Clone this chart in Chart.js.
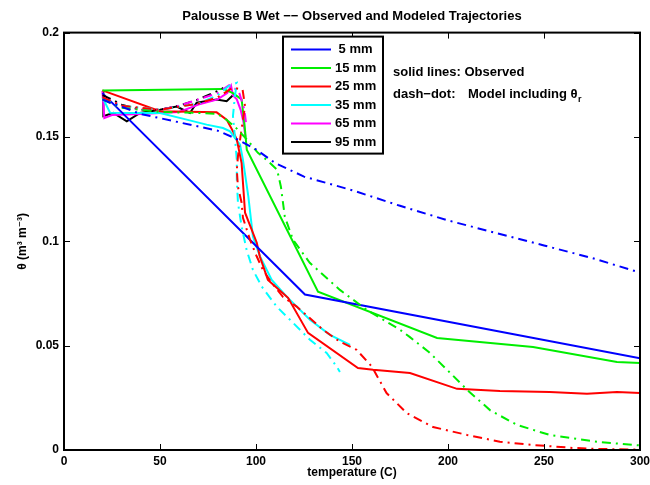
<!DOCTYPE html>
<html>
<head>
<meta charset="utf-8">
<script src="https://cdn.jsdelivr.net/npm/chart.js@4"></script>
<style>
  html, body { margin: 0; padding: 0; background: #fff; }
  canvas { display: block; }
</style>
</head>
<body>
<canvas id="myChart" width="650" height="485"></canvas>
<script>
// tick labels
var xTicks = [0, 50, 100, 150, 200, 250, 300];
var yTicks = [0, 0.05, 0.1, 0.15, 0.2];
var yTickLabels = ["0", "0.05", "0.1", "0.15", "0.2"];

// depths (legend) and colours
var depths = [" 5 mm", "15 mm", "25 mm", "35 mm", "65 mm", "95 mm"];
var colors = ["#0000ff", "#00ee00", "#ff0000", "#00ffff", "#ff00ff", "#000000"];

// observed trajectories (temperature C, theta)
var obs5T = [20, 125.5, 300];
var obs5Theta = [0.171, 0.0745, 0.044];
var obs15T = [20, 83, 88, 92.5, 94, 95.2, 132.3, 194.3, 244.3, 288, 300];
var obs15Theta = [0.1723, 0.173, 0.171, 0.168, 0.156, 0.1439, 0.0758, 0.0537, 0.0494, 0.0422, 0.0417];
var obs25T = [20, 50, 79.5, 84.7, 88, 90, 92.5, 94.3, 100.4, 102, 106.2, 110.8, 116.7, 127.1, 153.1, 161, 180.2, 204.7, 227, 253, 272.4, 288, 300];
var obs25Theta = [0.1723, 0.1623, 0.1618, 0.1583, 0.1527, 0.1487, 0.1375, 0.1137, 0.0993, 0.0927, 0.0815, 0.0777, 0.0729, 0.0561, 0.0393, 0.0384, 0.0369, 0.0293, 0.0283, 0.0278, 0.0269, 0.0278, 0.0273];
var obs35T = [20, 24, 35, 50, 63.9, 74.3, 82.8, 86.5, 89, 91.7, 93.2, 96, 98.4, 102.1, 108.2, 116, 128.1, 138.5, 149];
var obs35Theta = [0.169, 0.1616, 0.1615, 0.1615, 0.1583, 0.1559, 0.1543, 0.1527, 0.1495, 0.1463, 0.139, 0.1215, 0.1023, 0.0927, 0.0815, 0.0735, 0.0624, 0.0552, 0.0504];
var obs65T = [20, 21, 25, 40, 60, 70, 80, 85, 87, 88, 90, 92, 93.5, 94.5];
var obs65Theta = [0.172, 0.159, 0.1605, 0.161, 0.162, 0.1655, 0.168, 0.171, 0.1745, 0.170, 0.168, 0.163, 0.157, 0.150];
var obs95T = [20.5, 20.5, 25.7, 32.7, 39.6, 50, 58.7, 65.6, 69.1, 79.5, 84.7, 88];
var obs95Theta = [0.1719, 0.160, 0.1615, 0.1575, 0.1615, 0.163, 0.1646, 0.1615, 0.1664, 0.1679, 0.1671, 0.170];

// modelled trajectories (dash-dot)
var mod5T = [20, 25, 30, 40, 50, 60, 70, 80, 90, 100, 110, 125, 150, 175, 200, 225, 250, 275, 300];
var mod5Theta = [0.168, 0.166, 0.1645, 0.161, 0.159, 0.157, 0.155, 0.153, 0.149, 0.144, 0.1375, 0.131, 0.1245, 0.117, 0.110, 0.104, 0.098, 0.092, 0.085];
var mod15T = [20, 30, 50, 70, 80, 85, 90, 96, 101, 105.6, 111, 113, 115, 119.3, 128, 143.7, 157.8, 175, 180, 190, 200, 210, 222, 236, 253, 279, 300];
var mod15Theta = [0.168, 0.164, 0.162, 0.1615, 0.161, 0.158, 0.154, 0.148, 0.1424, 0.139, 0.1343, 0.126, 0.1118, 0.1007, 0.0897, 0.0767, 0.0671, 0.0576, 0.0542, 0.047, 0.038, 0.0288, 0.019, 0.012, 0.0072, 0.0038, 0.0022];
var mod25T = [20, 30, 50, 70, 80, 88, 93, 94.3, 93, 91.7, 90.6, 90, 90.6, 92.5, 93.2, 96.9, 100.4, 103.6, 108.2, 114, 121.2, 134.9, 143.7, 152.4, 160.3, 168, 178.5, 192.2, 210, 227, 244.3, 265, 279, 300];
var mod25Theta = [0.169, 0.165, 0.163, 0.166, 0.169, 0.1736, 0.1727, 0.1647, 0.157, 0.1487, 0.1407, 0.1343, 0.1261, 0.1185, 0.1113, 0.1007, 0.0927, 0.0863, 0.0801, 0.0734, 0.0687, 0.0576, 0.0519, 0.048, 0.040, 0.0273, 0.0177, 0.011, 0.0072, 0.004, 0.0024, 0.001, 0.0005, 0.0002];
var mod35T = [20, 30, 50, 70, 80, 86, 90, 89, 88, 89, 90, 90, 90.6, 92.5, 95.1, 98.4, 103, 110.8, 117.7, 128.1, 136.8, 142, 143.7];
var mod35Theta = [0.168, 0.165, 0.163, 0.166, 0.170, 0.1745, 0.1759, 0.1695, 0.16, 0.1503, 0.139, 0.1295, 0.1185, 0.1071, 0.0959, 0.0863, 0.0783, 0.0687, 0.0624, 0.0528, 0.0465, 0.040, 0.0374];
var mod65T = [20, 30, 40, 50, 60, 70, 80, 86, 91, 94, 95];
var mod65Theta = [0.169, 0.165, 0.163, 0.163, 0.165, 0.168, 0.171, 0.1748, 0.172, 0.163, 0.155];
var mod95T = [20, 25, 30, 40, 50, 60, 70, 80, 83];
var mod95Theta = [0.170, 0.168, 0.1655, 0.163, 0.163, 0.165, 0.168, 0.172, 0.1735];

var obsT = [obs5T, obs15T, obs25T, obs35T, obs65T, obs95T];
var obsTheta = [obs5Theta, obs15Theta, obs25Theta, obs35Theta, obs65Theta, obs95Theta];
var modT = [mod5T, mod15T, mod25T, mod35T, mod65T, mod95T];
var modTheta = [mod5Theta, mod15Theta, mod25Theta, mod35Theta, mod65Theta, mod95Theta];

function pts(xs, ys) {
    return xs.map(function (v, i) { return { x: v, y: ys[i] }; });
}

var datasets = [];
for (var i = 0; i < depths.length; i++) {
    datasets.push({
        label: depths[i] + " model",
        data: pts(modT[i], modTheta[i]),
        borderColor: colors[i],
        borderWidth: 2,
        borderDash: [9, 5, 2, 5],
        showLine: true,
        pointRadius: 0,
        tension: 0
    });
}
for (var j = 0; j < depths.length; j++) {
    datasets.push({
        label: depths[j],
        data: pts(obsT[j], obsTheta[j]),
        borderColor: colors[j],
        borderWidth: 2,
        showLine: true,
        pointRadius: 0,
        tension: 0
    });
}

var FONT = "'Liberation Sans', Arial, 'DejaVu Sans', sans-serif";

// box, inward ticks, legend and notes drawn on top of the plot
var matlabLook = {
    id: 'matlabLook',
    afterDraw: function (chart) {
        var ctx = chart.ctx, a = chart.chartArea;
        var xs = chart.scales.x, ys = chart.scales.y;
        ctx.save();

        ctx.strokeStyle = "#000";
        ctx.lineWidth = 1;
        ctx.beginPath();
        xTicks.forEach(function (v) {
            var p = Math.round(xs.getPixelForValue(v)) + 0.5;
            ctx.moveTo(p, a.bottom); ctx.lineTo(p, a.bottom - 6);
            ctx.moveTo(p, a.top); ctx.lineTo(p, a.top + 6);
        });
        yTicks.forEach(function (v) {
            var p = Math.round(ys.getPixelForValue(v)) + 0.5;
            ctx.moveTo(a.left, p); ctx.lineTo(a.left + 6, p);
            ctx.moveTo(a.right, p); ctx.lineTo(a.right - 6, p);
        });
        ctx.stroke();
        ctx.lineWidth = 2;
        ctx.strokeRect(a.left, a.top, a.right - a.left, a.bottom - a.top);

        // legend
        var bx = a.left + 219, by = a.top + 4, bw = 100, bh = 117;
        ctx.fillStyle = "#fff";
        ctx.fillRect(bx, by, bw, bh);
        ctx.strokeRect(bx, by, bw, bh);
        ctx.font = "bold 13px " + FONT;
        ctx.textBaseline = "middle";
        ctx.textAlign = "left";
        for (var k = 0; k < depths.length; k++) {
            var ly = by + 13 + k * 18.5;
            ctx.strokeStyle = colors[k];
            ctx.lineWidth = 2;
            ctx.beginPath();
            ctx.moveTo(bx + 8, ly); ctx.lineTo(bx + 48, ly);
            ctx.stroke();
            ctx.fillStyle = "#000";
            ctx.fillText(depths[k], bx + 52, ly);
        }

        // notes
        var nx = a.left + 329;
        ctx.fillText("solid lines: Observed", nx, a.top + 40);
        ctx.fillText("dash\u2212dot:", nx, a.top + 62);
        var mx = a.left + 404;
        var s = "Model including \u03b8";
        ctx.fillText(s, mx, a.top + 62);
        var w = ctx.measureText(s).width;
        ctx.font = "bold 9px " + FONT;
        ctx.fillText("r", mx + w + 0.5, a.top + 67);

        ctx.restore();
    }
};

var myChart = document.getElementById('myChart').getContext('2d');
var trajChart = new Chart(myChart, {
    type: 'scatter',
    data: { datasets: datasets },
    options: {
        responsive: false,
        animation: false,
        events: [],
        layout: { padding: { top: 0, right: 10, left: 0, bottom: 0 } },
        plugins: {
            legend: { display: false },
            tooltip: { enabled: false },
            title: {
                display: true,
                fullSize: false,
                text: "Palousse B Wet \u2212\u2212 Observed and Modeled Trajectories",
                color: "#000",
                font: { family: FONT, size: 13, weight: 'bold' },
                padding: { top: 9, bottom: 8 }
            }
        },
        scales: {
            x: {
                type: 'linear',
                min: 0,
                max: 300,
                afterFit: function (s) { s.height = 35; s.paddingLeft = 0; s.paddingRight = 0; },
                afterBuildTicks: function (s) { s.ticks = xTicks.map(function (v) { return { value: v }; }); },
                grid: { display: false, drawTicks: false },
                border: { display: false },
                ticks: {
                    color: "#000",
                    padding: 4,
                    maxRotation: 0,
                    font: { family: FONT, size: 12, weight: 'bold' },
                    callback: function (v) { return String(v); }
                },
                title: {
                    display: true,
                    text: "temperature (C)",
                    color: "#000",
                    font: { family: FONT, size: 12, weight: 'bold' },
                    padding: { top: 0, bottom: 5 }
                }
            },
            y: {
                type: 'linear',
                min: 0,
                max: 0.2,
                afterFit: function (s) { s.width = 64; s.paddingTop = 0; s.paddingBottom = 0; },
                afterBuildTicks: function (s) { s.ticks = yTicks.map(function (v) { return { value: v }; }); },
                grid: { display: false, drawTicks: false },
                border: { display: false },
                ticks: {
                    color: "#000",
                    padding: 5,
                    font: { family: FONT, size: 12, weight: 'bold' },
                    callback: function (v, i) { return yTickLabels[i]; }
                },
                title: {
                    display: true,
                    text: "\u03b8 (m\u00b3 m\u207b\u00b3)",
                    color: "#000",
                    font: { family: FONT, size: 12, weight: 'bold' },
                    padding: { top: 15, bottom: 0 }
                }
            }
        }
    },
    plugins: [matlabLook]
});
</script>
</body>
</html>
